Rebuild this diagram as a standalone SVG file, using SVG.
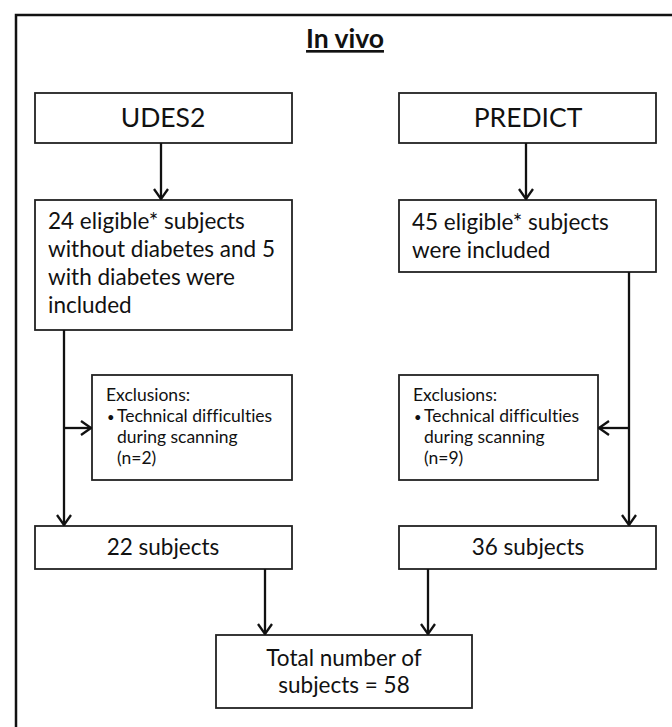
<svg xmlns="http://www.w3.org/2000/svg" width="672" height="727" viewBox="0 0 672 727">
<style>
.box{fill:#fff;stroke:#222;stroke-width:1.8}
.t{font-family:Lato,"Open Sans",sans-serif;fill:#111;font-variant-ligatures:none}
.big{font-size:26.5px}
.mid{font-size:22.5px}
.sm{font-size:17.5px}
.c{text-anchor:middle}
.ln{fill:none;stroke:#111;stroke-width:2.3}
</style>
<defs>
<marker id="ah" viewBox="0 0 12 16" refX="11" refY="8" markerWidth="12" markerHeight="16" markerUnits="userSpaceOnUse" orient="auto">
<path d="M1,1 L11,8 L1,15" fill="none" stroke="#111" stroke-width="2.3"/>
</marker>
</defs>
<rect width="672" height="727" fill="#fff"/>
<path d="M16,727 V15 H672" fill="none" stroke="#111" stroke-width="2.5"/>
<text class="t c" x="345" y="48" font-size="26.5" font-weight="bold" text-decoration="underline">In vivo</text>

<g id="udes2"><rect class="box" x="35" y="93" width="257" height="50"/><text class="t big c" x="163" y="127">UDES2</text></g>
<g id="predict"><rect class="box" x="399" y="93" width="257" height="50"/><text class="t big c" x="528" y="127">PREDICT</text></g>
<g id="udes2-included"><rect class="box" x="35" y="200" width="257" height="130"/>
<text class="t mid" x="48" y="229">24 eligible* subjects</text>
<text class="t mid" x="48" y="257">without diabetes and 5</text>
<text class="t mid" x="48" y="285">with diabetes were</text>
<text class="t mid" x="48" y="313">included</text></g>
<g id="predict-included"><rect class="box" x="399" y="200" width="257" height="72"/>
<text class="t mid" x="412" y="230">45 eligible* subjects</text>
<text class="t mid" x="412" y="258">were included</text></g>
<g id="udes2-excl"><rect class="box" x="92" y="375" width="200" height="105"/>
<text class="t sm" x="106" y="401">Exclusions:</text>
<text class="t sm" y="422"><tspan x="107" font-size="13">•</tspan><tspan x="117">Technical difficulties</tspan></text>
<text class="t sm" x="117" y="443">during scanning</text>
<text class="t sm" x="117" y="464">(n=2)</text></g>
<g id="predict-excl"><rect class="box" x="399" y="375" width="199" height="105"/>
<text class="t sm" x="413" y="401">Exclusions:</text>
<text class="t sm" y="422"><tspan x="414" font-size="13">•</tspan><tspan x="424">Technical difficulties</tspan></text>
<text class="t sm" x="424" y="443">during scanning</text>
<text class="t sm" x="424" y="464">(n=9)</text></g>
<g id="udes2-final"><rect class="box" x="35" y="526" width="257" height="43"/><text class="t mid c" x="163" y="555">22 subjects</text></g>
<g id="predict-final"><rect class="box" x="399" y="526" width="257" height="43"/><text class="t mid c" x="528" y="555">36 subjects</text></g>
<g id="total"><rect class="box" x="216" y="635" width="256" height="73"/>
<text class="t mid c" x="344" y="666">Total number of</text>
<text class="t mid c" x="344" y="693">subjects = 58</text></g>

<g id="connectors">
<line class="ln" x1="161" y1="143" x2="161" y2="199" marker-end="url(#ah)"/>
<line class="ln" x1="526" y1="143" x2="526" y2="199" marker-end="url(#ah)"/>
<line class="ln" x1="64" y1="330" x2="64" y2="525" marker-end="url(#ah)"/>
<line class="ln" x1="64" y1="428" x2="91" y2="428" marker-end="url(#ah)"/>
<line class="ln" x1="629" y1="272" x2="629" y2="525" marker-end="url(#ah)"/>
<line class="ln" x1="629" y1="428" x2="599" y2="428" marker-end="url(#ah)"/>
<line class="ln" x1="265" y1="569" x2="265" y2="634" marker-end="url(#ah)"/>
<line class="ln" x1="428" y1="569" x2="428" y2="634" marker-end="url(#ah)"/>
</g>
</svg>
